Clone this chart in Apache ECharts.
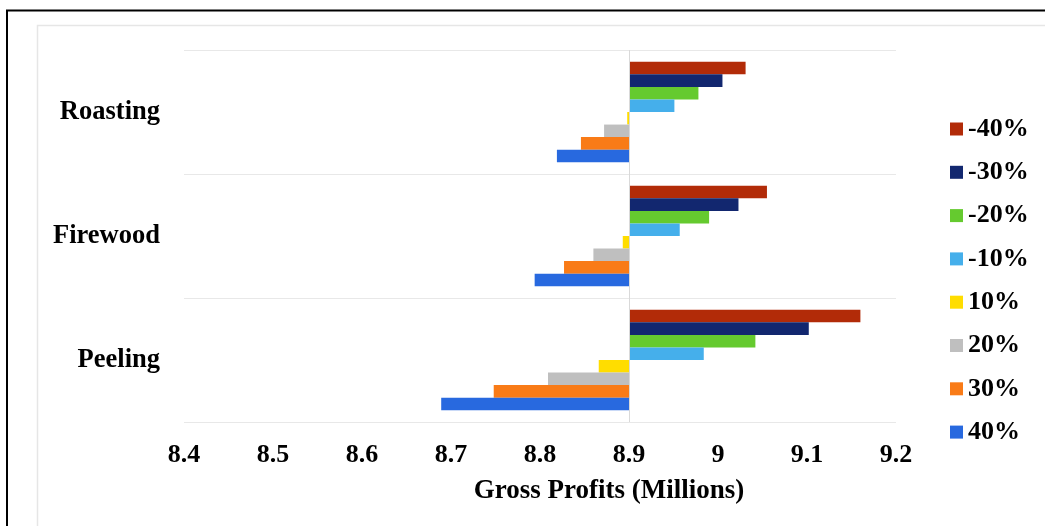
<!DOCTYPE html>
<html>
<head>
<meta charset="utf-8">
<script src="https://cdn.jsdelivr.net/npm/echarts@6/dist/echarts.min.js"></script>
<style>
html,body{margin:0;padding:0;background:#fff;}
#chart{width:1045px;height:526px;}
</style>
</head>
<body>
<div id="chart"></div>
<script>
const categories = ['Roasting', 'Firewood', 'Peeling'];
const scenarios = ['-40%', '-30%', '-20%', '-10%', '10%', '20%', '30%', '40%'];
// Gross profits (millions) per category, in scenario order above
const roasting = [9.031, 9.005, 8.978, 8.951, 8.898, 8.872, 8.846, 8.819];
const firewood = [9.055, 9.023, 8.990, 8.957, 8.893, 8.860, 8.827, 8.794];
const peeling  = [9.160, 9.102, 9.042, 8.984, 8.866, 8.809, 8.748, 8.689];
const baseValue = 8.9;
const xTickLabels = ['8.4', '8.5', '8.6', '8.7', '8.8', '8.9', '9', '9.1', '9.2'];
const colors = ['#B22B08', '#12276F', '#65CA2F', '#45AFEB', '#FFDD00', '#BFBFBF', '#F97B17', '#2869DF'];

const byCategory = [roasting, firewood, peeling];
const FONT = '"Liberation Serif", "Times New Roman", serif';

const series = [];
scenarios.forEach((name, i) => {
  const vals = byCategory.map(arr => arr[i]);
  series.push({
    name: '_base' + i,
    type: 'bar',
    stack: 's' + i,
    silent: true,
    barGap: '0%',
    barCategoryGap: '19%',
    itemStyle: { color: 'rgba(0,0,0,0)' },
    data: vals.map(v => Math.min(v, baseValue))
  });
  series.push({
    name: name,
    type: 'bar',
    stack: 's' + i,
    barGap: '0%',
    barCategoryGap: '19%',
    itemStyle: { color: colors[i] },
    data: vals.map(v => +Math.abs(v - baseValue).toFixed(4))
  });
});
series.push({
  name: '_axisline',
  type: 'line',
  data: [],
  silent: true,
  markLine: {
    silent: true,
    symbol: 'none',
    label: { show: false },
    lineStyle: { color: '#D9D9D9', width: 1, type: 'solid' },
    data: [{ xAxis: baseValue }]
  }
});

const chart = echarts.init(document.getElementById('chart'));
chart.setOption({
  animation: false,
  backgroundColor: '#fff',
  textStyle: { fontFamily: FONT },
  graphic: [
    { type: 'rect', shape: { x: 37.5, y: 25.5, width: 1200, height: 700 },
      style: { fill: 'none', stroke: '#E6E6E6', lineWidth: 1.5 }, silent: true },
    { type: 'rect', shape: { x: 7, y: 10.5, width: 1200, height: 700 },
      style: { fill: 'none', stroke: '#000', lineWidth: 2 }, silent: true }
  ],
  grid: { left: 184, right: 149, top: 50, bottom: 104, containLabel: false },
  legend: {
    data: scenarios,
    orient: 'vertical',
    left: 950,
    top: 116,
    padding: 0,
    itemWidth: 13,
    itemHeight: 13,
    itemGap: 17.3,
    icon: 'rect',
    textStyle: { fontFamily: FONT, fontWeight: 'bold', fontSize: 26, color: '#000' }
  },
  xAxis: {
    type: 'value',
    min: 8.4,
    max: 9.2,
    interval: 0.1,
    name: 'Gross Profits (Millions)',
    nameLocation: 'middle',
    nameGap: 56,
    nameTextStyle: { fontFamily: FONT, fontWeight: 'bold', fontSize: 27, color: '#000', padding: [0, 0, 0, 138] },
    axisLine: { show: false },
    axisTick: { show: false },
    splitLine: { show: false },
    axisLabel: {
      fontFamily: FONT, fontWeight: 'bold', fontSize: 26, color: '#000', margin: 20,
      formatter: v => xTickLabels[Math.round((v - 8.4) * 10)]
    }
  },
  yAxis: {
    type: 'category',
    data: categories,
    inverse: true,
    axisLine: { show: false },
    axisTick: { show: false },
    splitLine: { show: true, lineStyle: { color: '#E8E8E8', width: 1 } },
    axisLabel: { fontFamily: FONT, fontWeight: 'bold', fontSize: 26.5, color: '#000', margin: 24 }
  },
  series: series
});
</script>
</body>
</html>
